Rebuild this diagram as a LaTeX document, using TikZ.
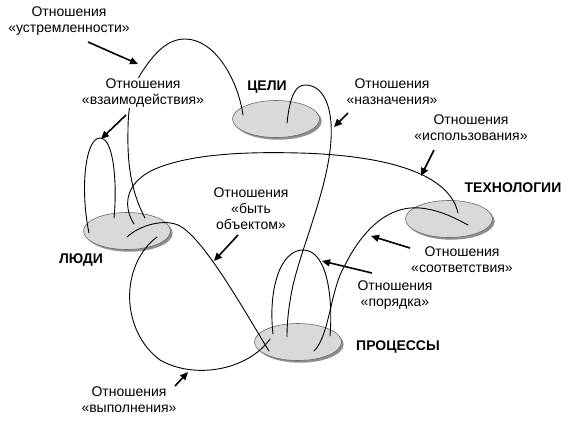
\documentclass[tikz,border=0pt]{standalone}
\usepackage{fontspec}
\setmainfont{Liberation Sans}
\usetikzlibrary{arrows.meta,shapes.geometric,shadows}
\definecolor{ellfill}{HTML}{D9D9D9}
\definecolor{ellline}{HTML}{6A6A6A}
\definecolor{ellshadow}{HTML}{8E8E8E}
\tikzset{
  ell/.style={ellipse, draw=ellline, line width=0.6pt, fill=ellfill,
    minimum width=87pt, minimum height=37pt, inner sep=0pt,
    general shadow={fill=ellshadow, shadow xshift=2.2pt, shadow yshift=-2.2pt}},
  title/.style={font=\fontsize{14}{16}\selectfont\bfseries, inner sep=1pt},
  lbl/.style={font=\fontsize{14}{16}\selectfont, align=center, inner sep=1pt, fill=white},
  link/.style={line width=0.9pt, line cap=round},
  pointer/.style={line width=1.6pt, -{Triangle[length=8pt,width=7pt]}}
}
\begin{document}
\begin{tikzpicture}[x=1pt,y=-1pt]
\useasboundingbox (0,0) rectangle (570,421);
% ellipses
\node[ell] (celi) at (276,119) {};
\node[ell] (ludi) at (127,231) {};
\node[ell] (tech) at (449,219) {};
\node[ell] (proc) at (298,342) {};
% titles
\node[title] (tceli) at (267,87) {ЦЕЛИ};
\node[title] (ttech) at (513,188) {ТЕХНОЛОГИИ};
\node[title] (tludi) at (81,260) {ЛЮДИ};
\node[title] (tproc) at (398,347) {ПРОЦЕССЫ};
% curves
% устремленности: ЛЮДИ -> ЦЕЛИ
\draw[link] ([shift={(18,-13)}]ludi.center) .. controls (133,195) and (127,170) .. (128,130)
  .. controls (128,105) and (133,85) .. (142,72)
  .. controls (155,52) and (168,39) .. (185,39)
  .. controls (215,39) and (238,80) .. ([shift={(-33,-4)}]celi.center);
% взаимодействия loop on ЛЮДИ
\draw[link] ([shift={(-38,2)}]ludi.center) .. controls (80,190) and (85,138) .. (100,138)
  .. controls (115,138) and (117,190) .. ([shift={(-13,-13)}]ludi.center);
% использования: ЛЮДИ -> ТЕХНОЛОГИИ
\draw[link] ([shift={(7,-7)}]ludi.center) .. controls (122,205) and (125,180) .. (160,167)
  .. controls (200,152) and (260,152) .. (300,153)
  .. controls (370,155) and (448,168) .. ([shift={(9,-6)}]tech.center);
% быть объектом: ЛЮДИ -> ПРОЦЕССЫ
\draw[link] ([shift={(0,6)}]ludi.center) .. controls (140,225) and (165,218) .. (180,226)
  .. controls (205,240) and (245,312) .. ([shift={(-29,9)}]proc.center);
% выполнения: ЛЮДИ -> ПРОЦЕССЫ
\draw[link] ([shift={(30,6)}]ludi.center) .. controls (120,265) and (120,330) .. (160,360)
  .. controls (195,380) and (248,370) .. ([shift={(-28,-3)}]proc.center);
% назначения: ЦЕЛИ -> ПРОЦЕССЫ
\draw[link] ([shift={(11,4)}]celi.center) .. controls (290,95) and (296,85) .. (305,85)
  .. controls (325,85) and (333,110) .. (331,140)
  .. controls (328,190) and (300,250) .. (292,290)
  .. controls (288,310) and (287,325) .. ([shift={(-11,-5)}]proc.center);
% порядка loop on ПРОЦЕССЫ
\draw[link] ([shift={(-25,-8)}]proc.center) .. controls (268,290) and (280,250) .. (303,250)
  .. controls (328,250) and (333,300) .. ([shift={(32,-6)}]proc.center);
% соответствия: ПРОЦЕССЫ -> ТЕХНОЛОГИИ
\draw[link] ([shift={(16,9)}]proc.center) .. controls (330,335) and (330,290) .. (345,265)
  .. controls (360,235) and (385,205) .. (420,208)
  .. controls (440,210) and (455,218) .. ([shift={(19,6)}]tech.center);
% labels
\node[lbl] (lustr) at (69,21) {Отношения\\«устремленности»};
\node[lbl] (lvzaim) at (143,93) {Отношения\\«взаимодействия»};
\node[lbl] (lnazn) at (392,92) {Отношения\\«назначения»};
\node[lbl] (lispol) at (471,128) {Отношения\\«использования»};
\node[lbl] (lbyt) at (251,209) {Отношения\\«быть\\объектом»};
\node[lbl] (lsootv) at (462,260) {Отношения\\«соответствия»};
\node[lbl] (lpor) at (395,295) {Отношения\\«порядка»};
\node[lbl] (lvypol) at (129,400) {Отношения\\«выполнения»};
% pointers
\coordinate (a1s) at (88,42);  \coordinate (a1t) at (138,64);
\coordinate (a2s) at (126,115); \coordinate (a2t) at (101,139);
\coordinate (a3s) at (348,113); \coordinate (a3t) at (334,127);
\coordinate (a4s) at (434,150); \coordinate (a4t) at (421,176);
\coordinate (a5s) at (238,235); \coordinate (a5t) at (214,261);
\coordinate (a6s) at (175,386); \coordinate (a6t) at (188,372);
\coordinate (a7s) at (410,248); \coordinate (a7t) at (371,236);
\coordinate (a8s) at (372,273); \coordinate (a8t) at (322,261);
\draw[pointer] (a1s) -- (a1t);
\draw[pointer] (a2s) -- (a2t);
\draw[pointer] (a3s) -- (a3t);
\draw[pointer] (a4s) -- (a4t);
\draw[pointer] (a5s) -- (a5t);
\draw[pointer] (a6s) -- (a6t);
\draw[pointer] (a7s) -- (a7t);
\draw[pointer] (a8s) -- (a8t);
\end{tikzpicture}
\end{document}
